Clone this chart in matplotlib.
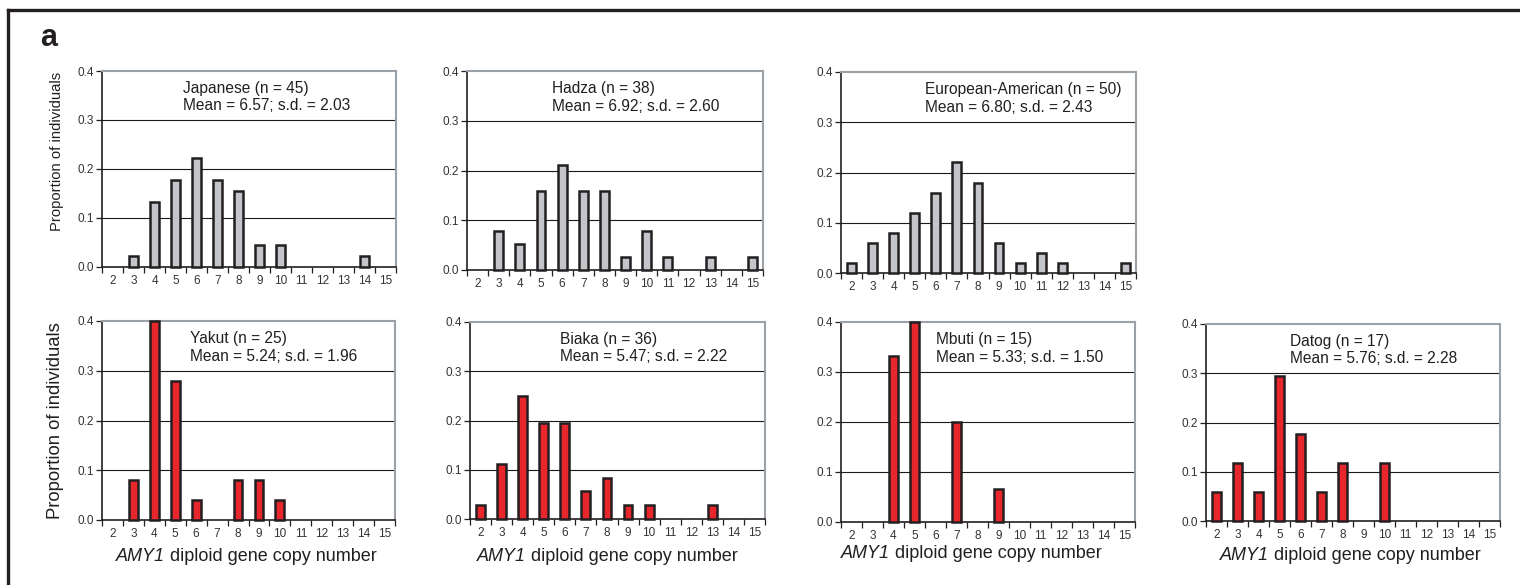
import numpy as np
import matplotlib
matplotlib.use("Agg")
import matplotlib.pyplot as plt
from matplotlib.lines import Line2D

plt.rcParams['font.family'] = ['Liberation Sans', 'DejaVu Sans']

# AMY1 copy number categories and proportion of individuals per population
copy_numbers = list(range(2, 16))

japanese = [0, 0.022, 0.133, 0.178, 0.222, 0.178, 0.156, 0.044, 0.044, 0, 0, 0, 0.022, 0]
hadza = [0, 0.079, 0.053, 0.158, 0.211, 0.158, 0.158, 0.026, 0.079, 0.026, 0, 0.026, 0, 0.026]
european = [0.02, 0.06, 0.08, 0.12, 0.16, 0.22, 0.18, 0.06, 0.02, 0.04, 0.02, 0, 0, 0.02]
yakut = [0, 0.08, 0.40, 0.28, 0.04, 0, 0.08, 0.08, 0.04, 0, 0, 0, 0, 0]
biaka = [0.028, 0.111, 0.25, 0.194, 0.194, 0.056, 0.083, 0.028, 0.028, 0, 0, 0.028, 0, 0]
mbuti = [0, 0, 0.333, 0.40, 0, 0.20, 0, 0.067, 0, 0, 0, 0, 0, 0]
datog = [0.059, 0.118, 0.059, 0.294, 0.176, 0.059, 0.118, 0, 0.118, 0, 0, 0, 0, 0]

names = ["Japanese (n = 45)", "Hadza (n = 38)", "European-American (n = 50)",
         "Yakut (n = 25)", "Biaka (n = 36)", "Mbuti (n = 15)", "Datog (n = 17)"]
stats = ["Mean = 6.57; s.d. = 2.03", "Mean = 6.92; s.d. = 2.60", "Mean = 6.80; s.d. = 2.43",
         "Mean = 5.24; s.d. = 1.96", "Mean = 5.47; s.d. = 2.22", "Mean = 5.33; s.d. = 1.50",
         "Mean = 5.76; s.d. = 2.28"]
series = [japanese, hadza, european, yakut, biaka, mbuti, datog]

W, H = 1520, 585
fig = plt.figure(figsize=(W / 100, H / 100), dpi=100)

# panel boxes in pixels: left, right, top, bottom
boxes = [(102, 396, 71, 267), (467, 763, 71, 270), (841, 1136, 72, 273),
         (102, 395, 321, 520), (470, 765, 322, 519), (841, 1135, 322, 522),
         (1206, 1500, 324, 521)]
text_x = [0.275, 0.287, 0.285, 0.30, 0.305, 0.323, 0.286]
# x-axis title placement (left edge, baseline) for the bottom row
xlabel_pos = {3: (116, 561), 4: (477, 561), 5: (841, 558), 6: (1220, 560)}

gray = '#c3c5cb'
red = '#e8272d'
dark = '#231f20'


def px(x, y):
    return x / W, 1 - y / H


for i, (vals, (x0, x1, yt, yb)) in enumerate(zip(series, boxes)):
    ax = fig.add_axes([x0 / W, 1 - yb / H, (x1 - x0) / W, (yb - yt) / H])
    fill = gray if i < 3 else red
    xs = [c for c, v in zip(copy_numbers, vals) if v > 0]
    hs = [v for v in vals if v > 0]
    ax.bar(xs, hs, width=0.42, color=fill, edgecolor=dark, linewidth=1.8,
           zorder=3, clip_on=False)
    ax.set_xlim(1.5, 15.5)
    ax.set_ylim(0, 0.4)
    ax.set_yticks([0, 0.1, 0.2, 0.3, 0.4])
    ax.set_yticklabels(['0.0', '0.1', '0.2', '0.3', '0.4'])
    ax.set_xticks(copy_numbers)
    ax.set_xticks(np.arange(1.5, 16, 1), minor=True)
    ax.tick_params(axis='x', which='major', length=0, labelsize=8.5, pad=6,
                   colors='#333333')
    ax.tick_params(axis='x', which='minor', length=4, width=0.9, color=dark)
    ax.tick_params(axis='y', length=4, width=0.9, color=dark, labelsize=8.5,
                   pad=2, labelcolor='#333333')
    for y in [0.1, 0.2, 0.3]:
        ax.axhline(y, color='#1a1a1a', lw=0.8, zorder=1)
    ax.spines['left'].set_color(dark)
    ax.spines['bottom'].set_color(dark)
    ax.spines['left'].set_linewidth(1.2)
    ax.spines['bottom'].set_linewidth(1.2)
    for s in ['top', 'right']:
        ax.spines[s].set_color('#9aa1a8')
        ax.spines[s].set_linewidth(1.5)
    ax.text(text_x[i], 0.95, names[i] + "\n" + stats[i], transform=ax.transAxes,
            ha='left', va='top', fontsize=11.2, linespacing=1.22, color=dark)

# y-axis titles
fig.text(*px(64, 151), 'Proportion of individuals', rotation=90, ha='right',
         va='center', fontsize=10.7, color=dark)
fig.text(*px(64, 421), 'Proportion of individuals', rotation=90, ha='right',
         va='center', fontsize=13.3, color=dark)

# x-axis titles: italic gene name followed by upright text
renderer = fig.canvas.get_renderer()
for i, (lx, by) in xlabel_pos.items():
    t1 = fig.text(*px(lx, by), 'AMY1', style='italic', fontsize=13,
                  ha='left', va='baseline', color=dark)
    w1 = t1.get_window_extent(renderer).width
    fig.text(*px(lx + w1, by), ' diploid gene copy number', fontsize=13,
             ha='left', va='baseline', color=dark)

# outer frame: top and left rules
fig.add_artist(Line2D([8 / W, 1], [1 - 10 / H, 1 - 10 / H], color=dark, lw=2.4))
fig.add_artist(Line2D([8 / W, 8 / W], [0, 1 - 10 / H], color=dark, lw=2.4))

fig.text(*px(40, 46), 'a', fontsize=22, fontweight='bold', color=dark,
         ha='left', va='baseline')

fig.savefig('out.png', dpi=100)
